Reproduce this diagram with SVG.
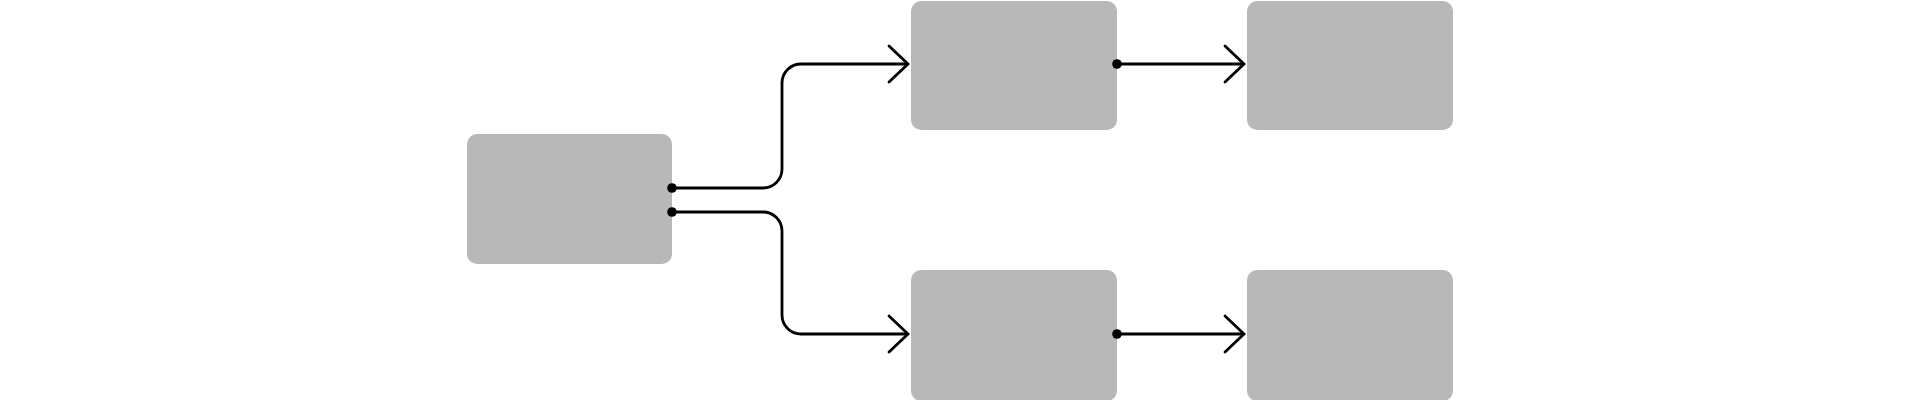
<svg xmlns="http://www.w3.org/2000/svg" width="1920" height="400" viewBox="0 0 1920 400">
  <style>
    .node { fill: #b8b8b8; }
    .conn { fill: none; stroke: #000; stroke-width: 2.8; stroke-linejoin: round; marker-start: url(#dot); marker-end: url(#arrow); }
  </style>
  <defs>
    <marker id="arrow" markerUnits="userSpaceOnUse" viewBox="-22 -22 26 44" refX="0" refY="0" markerWidth="26" markerHeight="44" orient="auto" overflow="visible">
      <path d="M-19,-18 L0,0 L-19,18" fill="none" stroke="#000" stroke-width="2.8" stroke-linecap="round" stroke-linejoin="miter"/>
    </marker>
    <marker id="dot" markerUnits="userSpaceOnUse" viewBox="-6 -6 12 12" refX="0" refY="0" markerWidth="12" markerHeight="12" orient="auto" overflow="visible">
      <circle cx="0" cy="0" r="4.8" fill="#000"/>
    </marker>
  </defs>
  <rect width="1920" height="400" fill="#fff"/>
  <g id="node-source"><rect class="node" x="467" y="134" width="205" height="130" rx="10"/></g>
  <g id="node-top-mid"><rect class="node" x="911" y="1" width="206" height="129" rx="10"/></g>
  <g id="node-top-right"><rect class="node" x="1247" y="1" width="206" height="129" rx="10"/></g>
  <g id="node-bottom-mid"><rect class="node" x="911" y="270" width="206" height="131" rx="10"/></g>
  <g id="node-bottom-right"><rect class="node" x="1247" y="270" width="206" height="131" rx="10"/></g>
  <g id="connectors">
    <path class="conn" d="M672,188 H763 A19,19 0 0 0 782,169 V83 A19,19 0 0 1 801,64 H908"/>
    <path class="conn" d="M672,212 H763 A19,19 0 0 1 782,231 V315 A19,19 0 0 0 801,334 H908"/>
    <path class="conn" d="M1117,64 H1244"/>
    <path class="conn" d="M1117,334 H1244"/>
  </g>
</svg>
